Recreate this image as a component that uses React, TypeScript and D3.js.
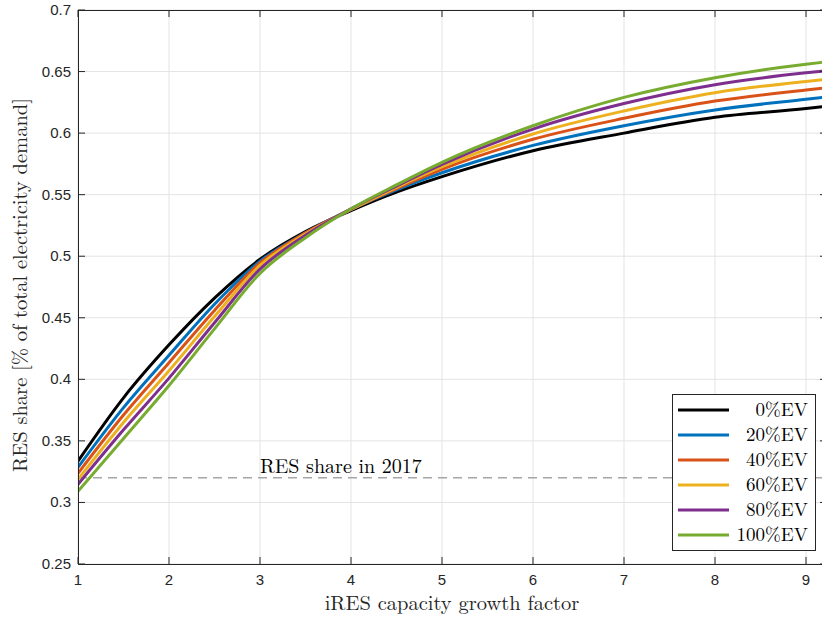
import React from "react";
import * as d3 from "d3";

const xs = [1, 1.5, 2, 2.5, 3, 3.5, 4, 4.5, 5, 6, 7, 8, 9, 9.18];
const ev0 = [0.3336, 0.385, 0.428, 0.466, 0.4975, 0.52, 0.537, 0.552, 0.5646, 0.5857, 0.6, 0.6128, 0.62, 0.6215];
const ev20 = [0.3285, 0.377, 0.4195, 0.461, 0.496, 0.519, 0.538, 0.554, 0.5678, 0.59, 0.606, 0.6188, 0.6275, 0.629];
const ev40 = [0.3236, 0.371, 0.4135, 0.456, 0.4945, 0.519, 0.538, 0.555, 0.5706, 0.595, 0.612, 0.626, 0.635, 0.6364];
const ev60 = [0.3187, 0.365, 0.407, 0.451, 0.4925, 0.518, 0.538, 0.556, 0.5727, 0.5993, 0.618, 0.6328, 0.642, 0.6434];
const ev80 = [0.3147, 0.359, 0.401, 0.446, 0.4895, 0.517, 0.5385, 0.557, 0.5746, 0.6033, 0.624, 0.6393, 0.649, 0.6504];
const ev100 = [0.309, 0.352, 0.395, 0.441, 0.486, 0.515, 0.5385, 0.558, 0.5763, 0.606, 0.629, 0.645, 0.656, 0.6575];

const seriesNames = ["0%EV", "20%EV", "40%EV", "60%EV", "80%EV", "100%EV"];
const seriesValues = [ev0, ev20, ev40, ev60, ev80, ev100];
const seriesColors = ["#000000", "#0072BD", "#D95319", "#EDB120", "#7E2F8E", "#77AC30"];

const xTicks = [1, 2, 3, 4, 5, 6, 7, 8, 9];
const yTicks = [0.25, 0.3, 0.35, 0.4, 0.45, 0.5, 0.55, 0.6, 0.65, 0.7];
const refShare = 0.32;
const refLabel = "RES share in 2017";
const xLabel = "iRES capacity growth factor";
const yLabel = "RES share [% of total electricity demand]";

const W = 822, H = 620;
const L = 78, R = 822, T = 10, B = 564;
const serif = "'Latin Modern Roman', 'Liberation Serif', 'DejaVu Serif', serif";
const sans = "'Liberation Sans', Arial, Helvetica, sans-serif";

export default function App() {
  const x = d3.scaleLinear().domain([1, 1 + (R - L) / 91]).range([L, R]);
  const y = d3.scaleLinear().domain([0.25, 0.7]).range([B, T]);
  const line = d3.line<number>().x((_, i) => x(xs[i])).y((d) => y(d)).curve(d3.curveMonotoneX);
  const axisColor = "#262626";
  const gridColor = "#e3e3e3";
  const tick = 7;
  const legX = 672, legY = 394, legW = 143, legH = 156, rowH = 25;

  return (
    <svg width={W} height={H} style={{ position: "absolute", left: 0, top: 0, background: "#fff" }}>
      <rect x={0} y={0} width={W} height={H} fill="#fff" />
      <defs>
        <clipPath id="plot">
          <rect x={L} y={T} width={R - L} height={B - T} />
        </clipPath>
      </defs>
      {xTicks.map((t) => (
        <line key={"gx" + t} x1={x(t)} x2={x(t)} y1={T} y2={B} stroke={gridColor} strokeWidth={1} />
      ))}
      {yTicks.map((t) => (
        <line key={"gy" + t} x1={L} x2={R} y1={y(t)} y2={y(t)} stroke={gridColor} strokeWidth={1} />
      ))}
      <g clipPath="url(#plot)">
        <line x1={L} x2={R} y1={y(refShare)} y2={y(refShare)} stroke="#a6a6a6" strokeWidth={1.5} strokeDasharray="9,6" />
        {seriesValues.map((vals, i) => (
          <path key={i} d={line(vals) || ""} fill="none" stroke={seriesColors[i]} strokeWidth={3} strokeLinejoin="round" />
        ))}
      </g>
      <text x={x(3)} y={y(refShare) - 5} fontFamily={serif} fontSize={20} fill="#000">{refLabel}</text>
      {/* axes box */}
      <line x1={L} x2={R} y1={B + 0.5} y2={B + 0.5} stroke={axisColor} strokeWidth={1} />
      <line x1={L} x2={R} y1={T + 0.5} y2={T + 0.5} stroke={axisColor} strokeWidth={1} />
      <line x1={L + 0.5} x2={L + 0.5} y1={T} y2={B} stroke={axisColor} strokeWidth={1} />
      <line x1={R + 0.5} x2={R + 0.5} y1={T} y2={B} stroke={axisColor} strokeWidth={1} />
      {xTicks.map((t) => (
        <g key={"tx" + t}>
          <line x1={x(t)} x2={x(t)} y1={B} y2={B - tick} stroke={axisColor} />
          <line x1={x(t)} x2={x(t)} y1={T} y2={T + tick} stroke={axisColor} />
          <text x={x(t)} y={B + 21} textAnchor="middle" fontFamily={sans} fontSize={15} fill={axisColor}>{t}</text>
        </g>
      ))}
      {yTicks.map((t) => (
        <g key={"ty" + t}>
          <line x1={L} x2={L + tick} y1={y(t)} y2={y(t)} stroke={axisColor} />
          <line x1={R - 2} x2={R} y1={y(t)} y2={y(t)} stroke={axisColor} />
          <text x={L - 7} y={y(t) + 5} textAnchor="end" fontFamily={sans} fontSize={15} fill={axisColor}>{String(t)}</text>
        </g>
      ))}
      <text x={452} y={610} textAnchor="middle" fontFamily={serif} fontSize={20.5} fill={axisColor}>{xLabel}</text>
      <text transform={`translate(27,${285}) rotate(-90)`} textAnchor="middle" fontFamily={serif} fontSize={20.5} fill={axisColor}>{yLabel}</text>
      {/* legend */}
      <rect x={legX + 0.5} y={legY + 0.5} width={legW} height={legH} fill="#fff" stroke={axisColor} strokeWidth={1} />
      {seriesNames.map((n, i) => {
        const cy = legY + 16 + i * rowH;
        return (
          <g key={n}>
            <line x1={legX + 6} x2={legX + 57} y1={cy} y2={cy} stroke={seriesColors[i]} strokeWidth={3} />
            <text x={legX + legW - 7} y={cy + 6} textAnchor="end" fontFamily={serif} fontSize={19} fill="#000">{n}</text>
          </g>
        );
      })}
    </svg>
  );
}
